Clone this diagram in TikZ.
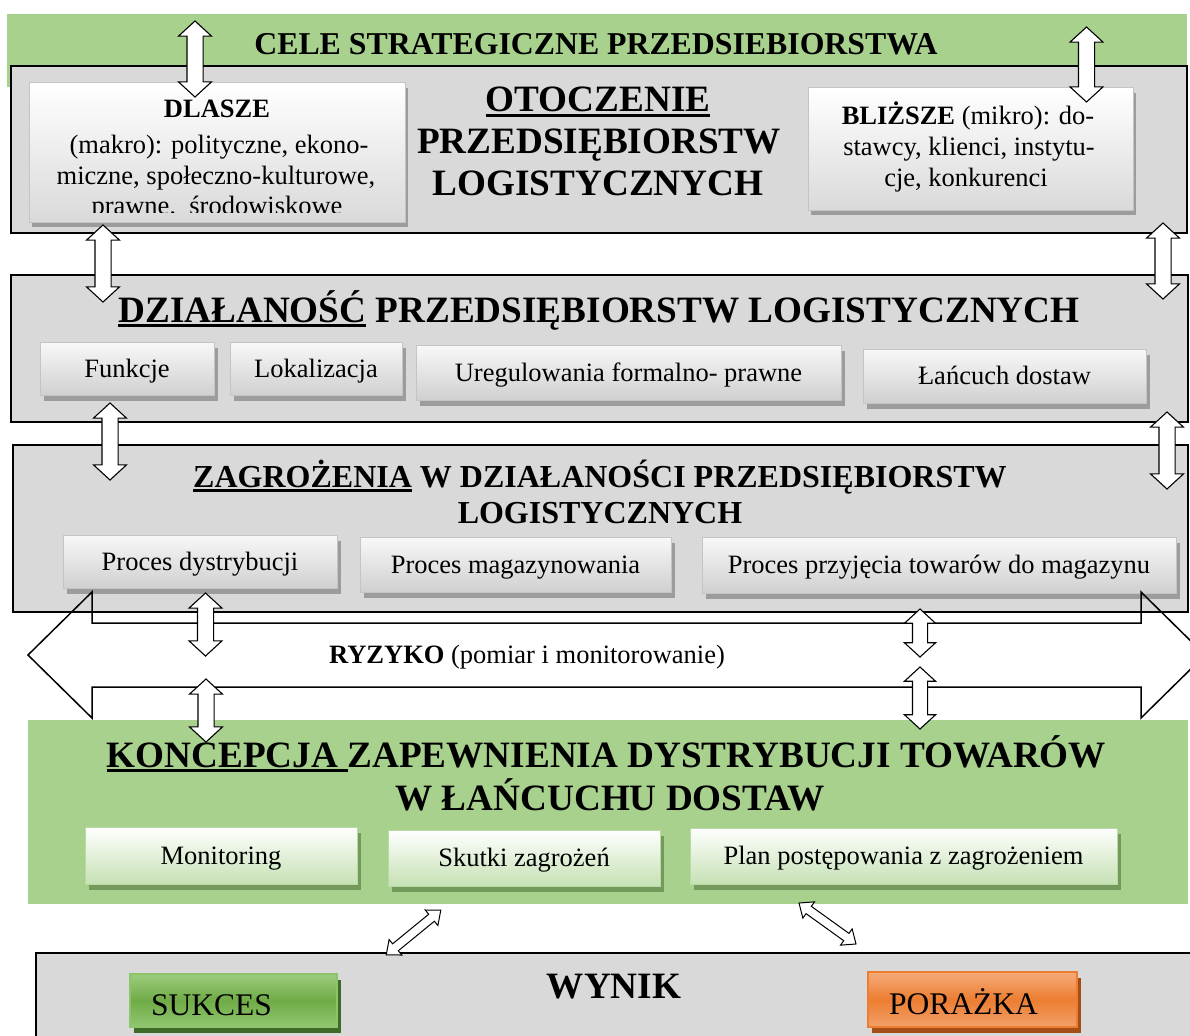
\documentclass[tikz,border=0pt]{standalone}
\usepackage{fontspec}
\setmainfont{Liberation Serif}
\usetikzlibrary{shapes.arrows,shadows}

\definecolor{panelgray}{HTML}{D9D9D9}
\definecolor{leafgreen}{HTML}{A9D18E}
\definecolor{cardtop}{HTML}{F8F8F8}
\definecolor{cardbottom}{HTML}{D0D0D0}
\definecolor{cardedge}{HTML}{C4C4C4}
\definecolor{shadegray}{HTML}{9C9C9C}
\definecolor{palegreen}{HTML}{C6E1B4}
\definecolor{greenedge}{HTML}{B9DBA3}
\definecolor{greenshade}{HTML}{74995C}
\definecolor{oktop}{HTML}{9CCC7D}
\definecolor{okmid}{HTML}{6FAB46}
\definecolor{okbottom}{HTML}{92C772}
\definecolor{okedge}{HTML}{8DC36B}
\definecolor{okshade}{HTML}{3E6B27}
\definecolor{failtop}{HTML}{F5AB7A}
\definecolor{failmid}{HTML}{ED7D31}
\definecolor{failbottom}{HTML}{F2A068}
\definecolor{failedge}{HTML}{ED7D31}
\definecolor{failshade}{HTML}{A34E17}

\newcommand\bigfont{\fontsize{37.2}{42}\selectfont\bfseries}
\newcommand\midfont{\fontsize{32}{36}\selectfont\bfseries}
\newcommand\celefont{\fontsize{31.8}{36}\selectfont\bfseries}
\newcommand\boxfont{\fontsize{26.5}{30}\selectfont}
\newcommand\tagfont{\fontsize{31.5}{36}\selectfont}
% thick underline under a heading word
\newcommand\ulx[1]{\setbox0=\hbox{#1}\rlap{\rule[-5pt]{\wd0}{2.6pt}}\box0\relax}
% outline of the wide two-headed risk arrow
\newcommand\riskshape{(28,655) -- (92,592) -- (92,623) -- (1141,623) -- (1141,592) -- (1205,655) -- (1141,718) -- (1141,687) -- (92,687) -- (92,718) -- cycle}

\begin{document}
\begin{tikzpicture}[x=1pt,y=-1pt,
  panel/.style={rectangle, draw=black, line width=1.1pt, fill=panelgray, inner sep=0pt, outer sep=0pt},
  band/.style={rectangle, fill=leafgreen, inner sep=0pt, outer sep=0pt},
  cardbase/.style={rectangle, line width=1pt, inner sep=0pt, outer sep=0pt, font=\boxfont,
    text height=23pt, text depth=6pt},
  card/.style={cardbase, draw=cardedge, top color=cardtop, bottom color=cardbottom,
    drop shadow={shadow xshift=4pt, shadow yshift=-6pt, fill=shadegray, opacity=1}},
  paper/.style={cardbase, draw=cardedge, top color=white, bottom color=cardbottom!80,
    drop shadow={shadow xshift=3pt, shadow yshift=-5pt, fill=shadegray, opacity=1}},
  greencard/.style={cardbase, draw=greenedge, top color=white, bottom color=palegreen,
    drop shadow={shadow xshift=4pt, shadow yshift=-6pt, fill=greenshade, opacity=1}},
  okcard/.style={cardbase, font=\tagfont, text height=35pt, draw=okedge, line width=1.5pt, top color=oktop, bottom color=okbottom, middle color=okmid,
    drop shadow={shadow xshift=4pt, shadow yshift=-6pt, fill=okshade, opacity=1}},
  failcard/.style={cardbase, font=\tagfont, text height=35pt, draw=failedge, line width=1.5pt, top color=failtop, bottom color=failbottom, middle color=failmid,
    drop shadow={shadow xshift=4pt, shadow yshift=-6pt, fill=failshade, opacity=1}},
  ttl/.style={inner sep=0pt, outer sep=0pt, anchor=base, font=\bigfont},
  txtline/.style={inner sep=0pt, outer sep=0pt, anchor=base, font=\boxfont},
  blockarr/.style={double arrow, draw=black, fill=white, line width=1.1pt, inner xsep=0pt, inner ysep=7.5pt, outer sep=0pt,
    double arrow head extend=8.5pt, double arrow tip angle=95, rotate=90},
  thinarr/.style={double arrow, draw=black, fill=white, line width=1pt, inner xsep=0pt, inner ysep=4pt, outer sep=0pt,
    double arrow head extend=5.5pt, double arrow tip angle=80}
]
\useasboundingbox (0,0) rectangle (1190,1035);
\clip (0,0) rectangle (1190,1035);

% strategic goals band
\node[band, minimum width=1180pt, minimum height=73pt] (goals) at (597,50.5) {};
\node[ttl, font=\celefont] (goalsT) at (596,55) {CELE STRATEGICZNE PRZEDSIEBIORSTWA};

% environment panel
\node[panel, minimum width=1176pt, minimum height=167pt] (env) at (599,149.5) {};
\node[paper, minimum width=376pt, minimum height=139pt] (far) at (217,152.5) {};
\begin{scope}
  \clip (29,83) rectangle (405,212);
  \node[txtline] (farA) at (217,118) {\textbf{DLASZE}};
  \node[txtline] (farB) at (219,154) {(makro): polityczne, ekono-};
  \node[txtline] (farC) at (216,184) {miczne, społeczno-kulturowe,};
  \node[txtline] (farD) at (217,214) {prawne,\ \ środowiskowe};
\end{scope}
\node[paper, minimum width=325pt, minimum height=122pt] (near) at (970.5,149) {};
\node[txtline] (nearA) at (968,125) {\textbf{BLIŻSZE} (mikro): do-};
\node[txtline] (nearB) at (969,156) {stawcy, klienci, instytu-};
\node[txtline] (nearC) at (966,186) {cje, konkurenci};
\node[ttl] (envA) at (598,112) {\ulx{OTOCZENIE}};
\node[ttl] (envB) at (599,154) {PRZEDSIĘBIORSTW};
\node[ttl] (envC) at (598,196) {LOGISTYCZNYCH};

% operations panel
\node[panel, minimum width=1177pt, minimum height=147pt] (ops) at (599.5,348.5) {};
\node[ttl] (opsT) at (599,322) {\ulx{DZIAŁANOŚĆ} PRZEDSIĘBIORSTW LOGISTYCZNYCH};
\node[card, minimum width=174pt, minimum height=53pt] (fun) at (127,368.5) {Funkcje};
\node[card, minimum width=172pt, minimum height=53pt] (loc) at (316,368.5) {Lokalizacja};
\node[card, minimum width=425pt, minimum height=55pt] (law) at (628.5,372.5) {Uregulowania formalno- prawne};
\node[card, minimum width=283pt, minimum height=54pt] (chain) at (1004.5,376) {Łańcuch dostaw};

% wide risk arrow, filled below the threats panel
\fill[white] \riskshape;

% threats panel
\node[panel, minimum width=1175pt, minimum height=167pt] (threat) at (600.5,528.5) {};
\node[ttl, font=\midfont] (thrA) at (600,487) {\ulx{ZAGROŻENIA} W DZIAŁANOŚCI PRZEDSIĘBIORSTW};
\node[ttl, font=\midfont] (thrB) at (600,523) {LOGISTYCZNYCH};
\node[card, minimum width=274pt, minimum height=53pt] (dist) at (200,561.5) {Proces dystrybucji};
\node[card, minimum width=311pt, minimum height=55pt] (store) at (515.5,564.5) {Proces magazynowania};
\node[card, minimum width=474pt, minimum height=56pt] (recv) at (939,565) {Proces przyjęcia towarów do magazynu};

% risk arrow outline and label
\draw[line width=1.5pt, line join=miter] \riskshape;
\node[txtline] (risk) at (527,663) {\textbf{RYZYKO} (pomiar i monitorowanie)};

% concept panel
\node[band, minimum width=1160pt, minimum height=184pt] (plan) at (608,812) {};
\node[ttl] (planA) at (606.5,767) {\ulx{KONCEPCJA\ }ZAPEWNIENIA DYSTRYBUCJI TOWARÓW};
\node[ttl] (planB) at (610,810) {W ŁAŃCUCHU DOSTAW};
\node[greencard, minimum width=272pt, minimum height=57pt] (mon) at (221,855.5) {Monitoring};
\node[greencard, minimum width=272pt, minimum height=56pt] (eff) at (524,858) {Skutki zagrożeń};
\node[greencard, minimum width=427pt, minimum height=56pt] (resp) at (903.5,856) {Plan postępowania z zagrożeniem};

% result panel
\node[panel, minimum width=1164pt, minimum height=97pt] (result) at (618,1001.5) {};
\node[ttl] (resultT) at (614,998) {WYNIK};
\node[okcard, minimum width=207pt, minimum height=53pt] (win) at (233.5,1000.5) {SUKCES\kern44pt};
\node[failcard, minimum width=209pt, minimum height=55pt] (lose) at (972.5,999.5) {PORAŻKA\kern18pt};

% two-way links between the levels
\node[blockarr, minimum height=76pt] (l1) at (195,59) {};
\node[blockarr, minimum height=75pt] (l2) at (1086.5,64.5) {};
\node[blockarr, minimum height=77pt] (l3) at (103,263.5) {};
\node[blockarr, minimum height=76pt] (l4) at (1163,261) {};
\node[blockarr, minimum height=77pt] (l5) at (110,441.5) {};
\node[blockarr, minimum height=77pt] (l6) at (1167,450.5) {};
\node[blockarr, minimum height=63pt] (l7) at (205.5,624.5) {};
\node[blockarr, minimum height=63pt] (l8) at (206,710.5) {};
\node[blockarr, minimum height=48pt, inner ysep=7pt, double arrow head extend=8pt] (l9) at (920,633) {};
\node[blockarr, minimum height=62pt, inner ysep=7pt, double arrow head extend=8pt] (l10) at (920,698) {};
\node[thinarr, minimum height=70.5pt, rotate=39.3] (l11) at (413.5,932.5) {};
\node[thinarr, minimum height=70.2pt, rotate=-35.7] (l12) at (827.5,923.5) {};
\end{tikzpicture}
\end{document}
